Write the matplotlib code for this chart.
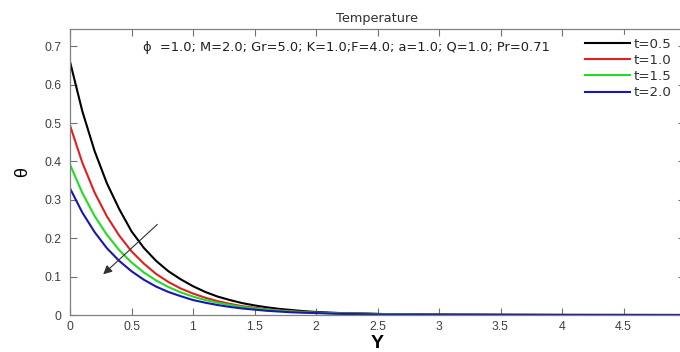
import matplotlib
matplotlib.use("Agg")
import matplotlib.pyplot as plt

# ---- data ----
Y = [0.0, 0.1, 0.2, 0.3, 0.4, 0.5, 0.6, 0.7, 0.8, 0.9, 1.0, 1.1, 1.2, 1.3, 1.4,
     1.5, 1.6, 1.7, 1.8, 1.9, 2.0, 2.2, 2.4, 2.6, 3.0, 3.5, 4.0, 4.5, 5.0]
theta_t05 = [0.660, 0.531, 0.427, 0.343, 0.276, 0.218, 0.175, 0.141, 0.114, 0.093,
             0.075, 0.060, 0.048, 0.039, 0.031, 0.025, 0.020, 0.016, 0.013, 0.010,
             0.008, 0.005, 0.004, 0.002, 0.001, 0.0005, 0.0002, 0.0001, 0.0]
theta_t10 = [0.494, 0.397, 0.319, 0.257, 0.207, 0.166, 0.134, 0.107, 0.086, 0.069,
             0.056, 0.045, 0.036, 0.029, 0.023, 0.019, 0.015, 0.012, 0.010, 0.008,
             0.006, 0.004, 0.003, 0.002, 0.001, 0.0005, 0.0002, 0.0001, 0.0]
theta_t15 = [0.392, 0.318, 0.258, 0.209, 0.169, 0.137, 0.111, 0.090, 0.073, 0.059,
             0.048, 0.039, 0.032, 0.026, 0.021, 0.017, 0.014, 0.011, 0.009, 0.007,
             0.006, 0.004, 0.003, 0.002, 0.001, 0.0005, 0.0002, 0.0001, 0.0]
theta_t20 = [0.330, 0.267, 0.216, 0.174, 0.141, 0.114, 0.092, 0.074, 0.060, 0.049,
             0.039, 0.032, 0.026, 0.021, 0.017, 0.014, 0.011, 0.009, 0.007, 0.006,
             0.005, 0.003, 0.002, 0.001, 0.001, 0.0005, 0.0002, 0.0001, 0.0]
series = [theta_t05, theta_t10, theta_t15, theta_t20]
labels = ["t=0.5", "t=1.0", "t=1.5", "t=2.0"]
colors = ["#000000", "#e02020", "#20dd20", "#1818b0"]
xticks = [0, 0.5, 1, 1.5, 2, 2.5, 3, 3.5, 4, 4.5]
xticklabels = ["0", "0.5", "1", "1.5", "2", "2.5", "3", "3.5", "4", "4.5"]
yticks = [0, 0.1, 0.2, 0.3, 0.4, 0.5, 0.6, 0.7]
yticklabels = ["0", "0.1", "0.2", "0.3", "0.4", "0.5", "0.6", "0.7"]
params = "ϕ  =1.0; M=2.0; Gr=5.0; K=1.0;F=4.0; a=1.0; Q=1.0; Pr=0.71"

plt.rcParams['font.family'] = ['Liberation Sans', 'DejaVu Sans']

W, H = 680, 352
fig = plt.figure(figsize=(W / 100, H / 100), dpi=100)
ax = fig.add_axes([70 / W, 1 - 315 / H, 615 / W, 286 / H])

for s, lab, c in zip(series, labels, colors):
    ax.plot(Y, s, color=c, lw=1.5, label=lab)

ax.set_xlim(0, 5)
ax.set_ylim(0, 0.745)
ax.set_xticks(xticks)
ax.set_xticklabels(xticklabels)
ax.set_yticks(yticks)
ax.set_yticklabels(yticklabels)
ax.tick_params(direction='in', length=5, width=0.8, colors='#707070',
               labelcolor='#404040', labelsize=8.8, top=True, right=True)
ax.tick_params(axis='y', pad=6)
ax.tick_params(axis='x', pad=4)
for sp in ax.spines.values():
    sp.set_color('#808080')
    sp.set_linewidth(0.9)

ax.set_title("Temperature", fontsize=9.3, color='#303030', pad=5,
             family='DejaVu Sans')
ax.set_xlabel("Y", fontsize=14, fontweight='bold', labelpad=2)
ax.set_ylabel("θ", fontsize=13, labelpad=10)

ax.text(143 / W, 1 - 47 / H, params, transform=fig.transFigure, fontsize=9.35,
        color='#202020', va='center', ha='left', family='DejaVu Sans')

ax.annotate("", xy=(0.27, 0.106), xytext=(0.71, 0.236),
            arrowprops=dict(arrowstyle='-|>', color='#303030', lw=0.8,
                            mutation_scale=13, shrinkA=0, shrinkB=0))

leg = ax.legend(loc='upper left', bbox_to_anchor=(582 / W, 1 - 35 / H),
                bbox_transform=fig.transFigure, frameon=True,
                prop={'family': 'DejaVu Sans', 'size': 9.6},
                facecolor='white', edgecolor='white', framealpha=1,
                handlelength=3.4, handletextpad=0.25, labelspacing=0.24,
                borderpad=0.2, borderaxespad=0, fancybox=False)
for t in leg.get_texts():
    t.set_color('#303030')

fig.savefig("out.png", dpi=100)
